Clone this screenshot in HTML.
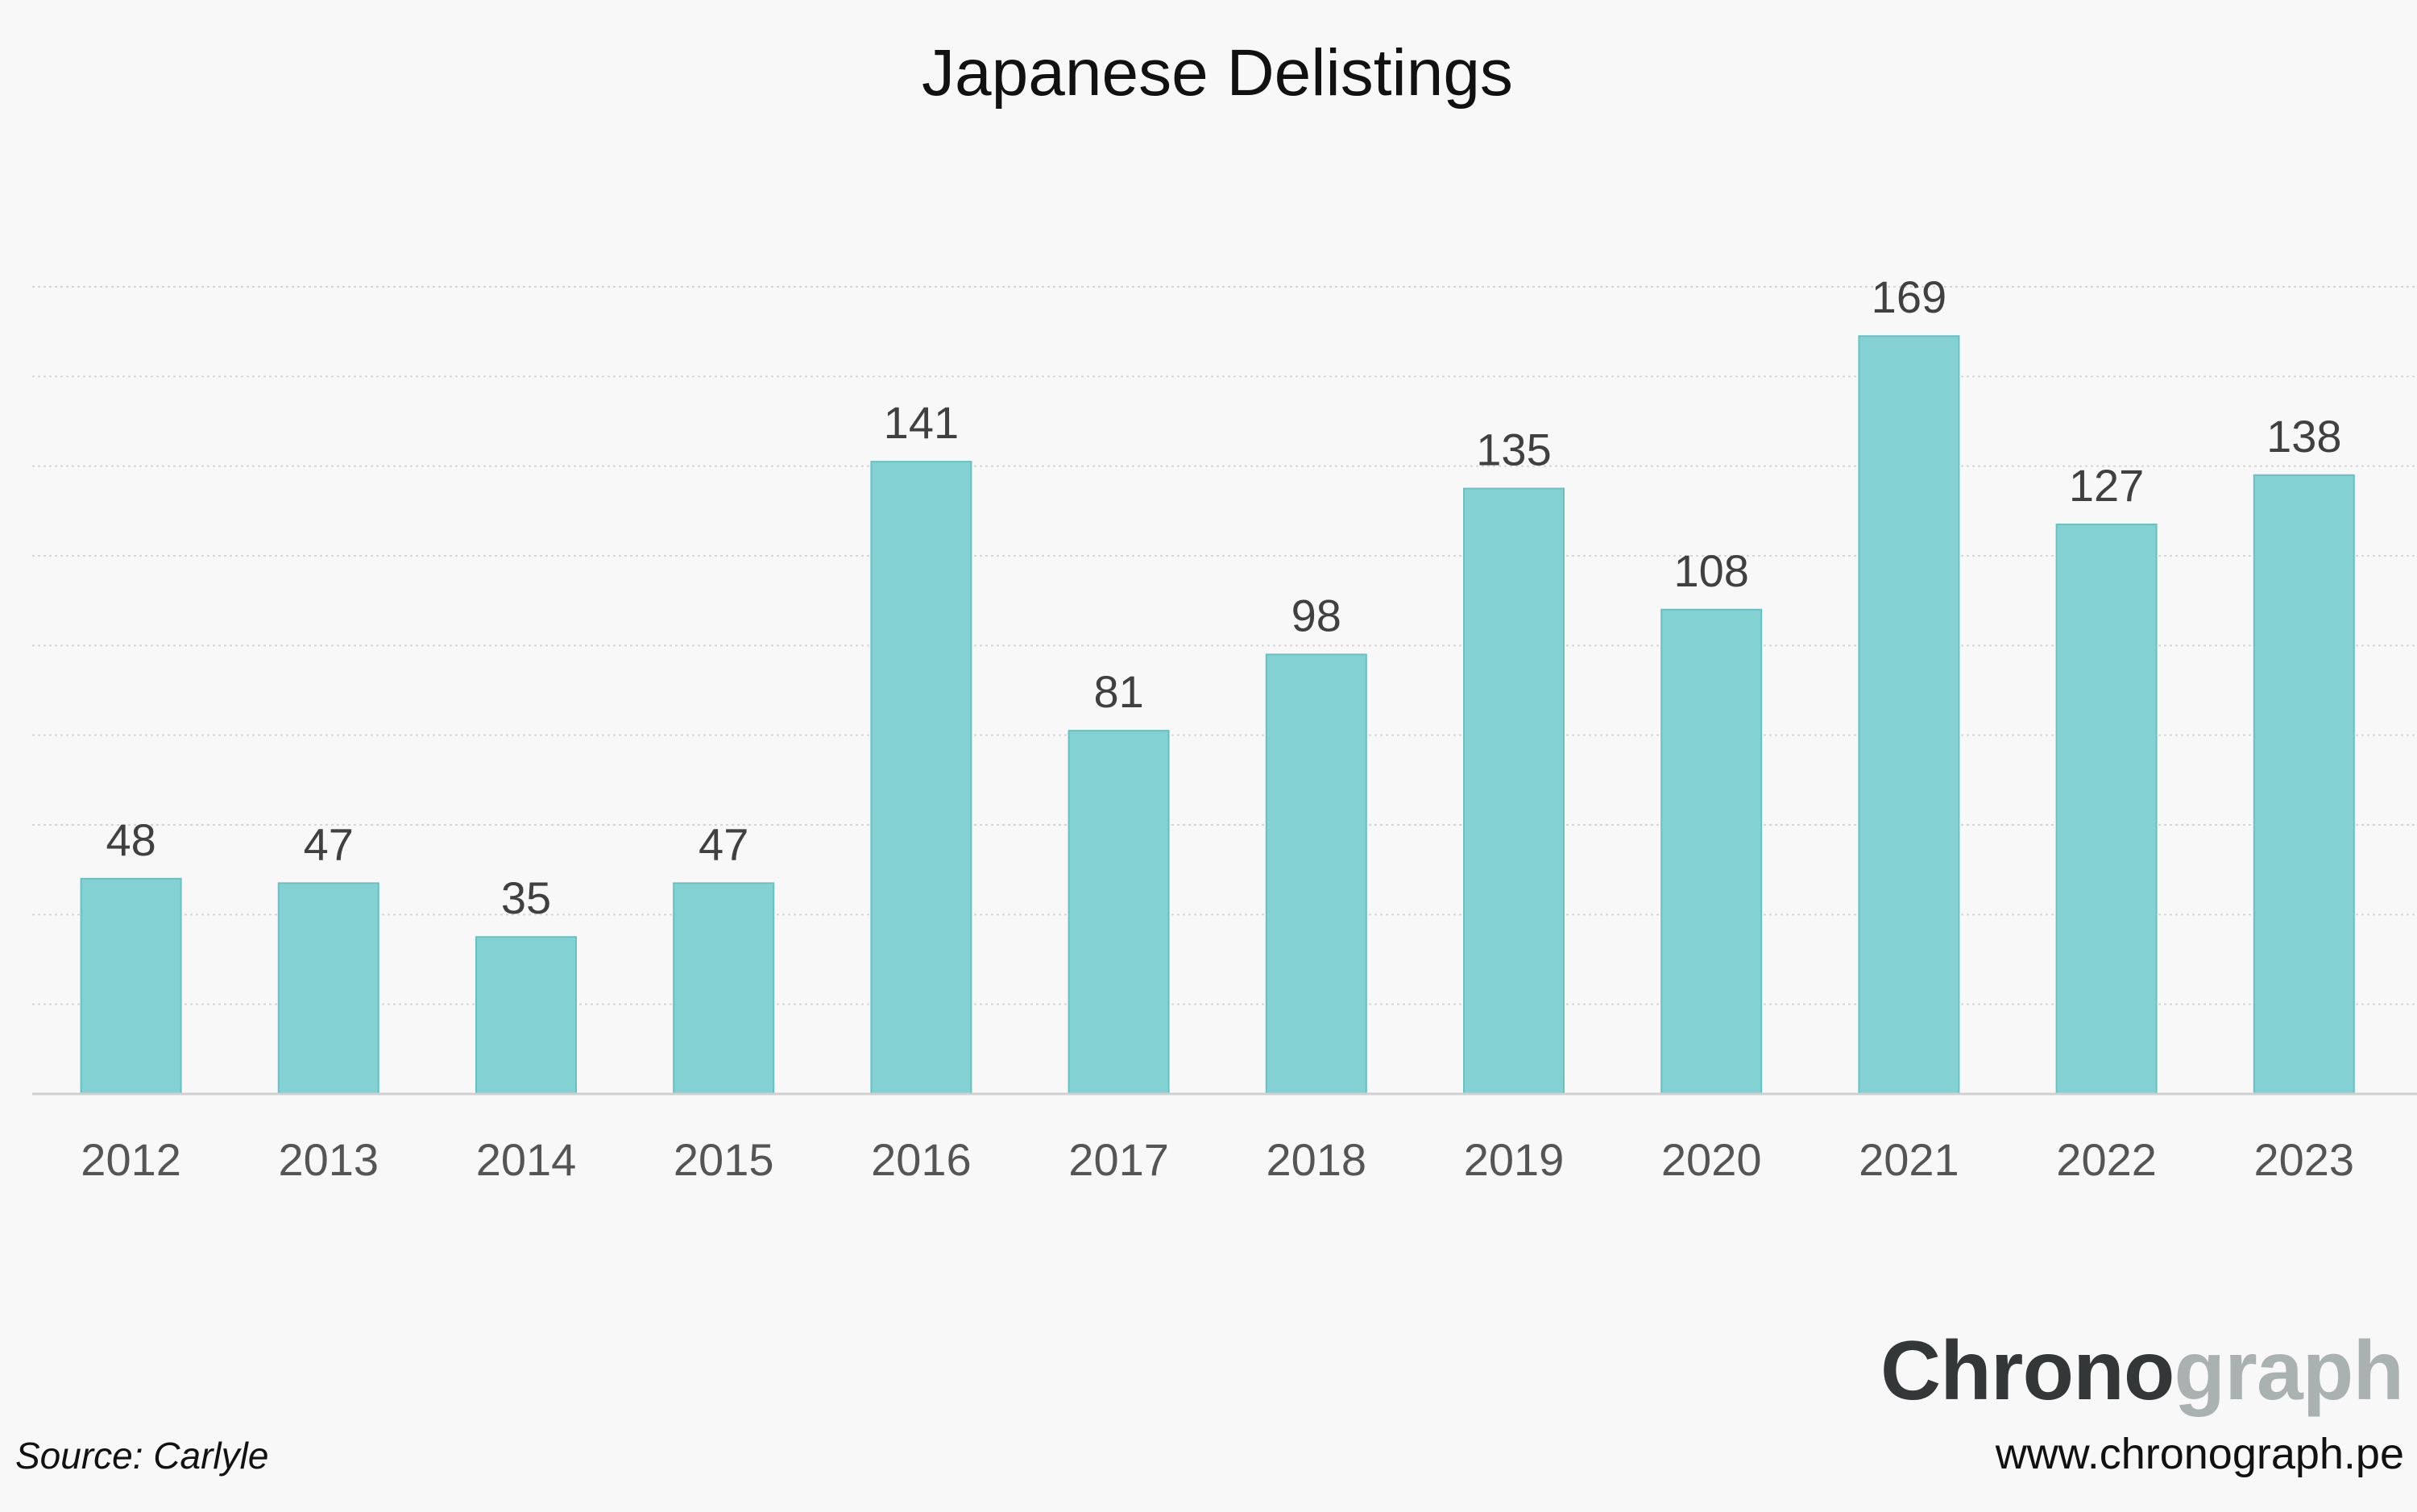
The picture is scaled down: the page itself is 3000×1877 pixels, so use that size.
<!DOCTYPE html>
<html><head><meta charset="utf-8"><style>
html,body{margin:0;padding:0;background:#f8f8f8;}
svg{display:block;font-family:"Liberation Sans",sans-serif;}
</style></head><body>
<svg id="chart" width="3000" height="1877" viewBox="0 0 3000 1877" xmlns="http://www.w3.org/2000/svg">
<rect width="3000" height="1877" fill="#f8f8f8"/>
<text x="1511" y="118" text-anchor="middle" font-size="82" fill="#111">Japanese Delistings</text>
<g id="grid"></g>
<g id="bars"></g>
<g id="labels"></g>
<g id="xaxis"></g>
<text x="19" y="1823" font-size="46" font-style="italic" fill="#111">Source: Carlyle</text>
<text x="2984" y="1737" text-anchor="end" font-size="104" font-weight="bold" textLength="650"><tspan fill="#333738">Chrono</tspan><tspan fill="#aab1b1">graph</tspan></text>
<text x="2984" y="1823" text-anchor="end" font-size="54" fill="#111">www.chronograph.pe</text>
</svg>
<script>
const categories = ["2012","2013","2014","2015","2016","2017","2018","2019","2020","2021","2022","2023"];
const values = [48,47,35,47,141,81,98,135,108,169,127,138];
const gridTicks = [20,40,60,80,100,120,140,160,180];
const NS = "http://www.w3.org/2000/svg";
const plotLeft = 40, step = 245.2, barW = 124, baseY = 1358, yMax = 180, topY = 356;
function xCenter(i){ return plotLeft + step*(i+0.5); }
function yScale(v){ return baseY - (baseY-topY)*v/yMax; }
function mk(tag, attrs, parent){ const e=document.createElementNS(NS,tag); for(const k in attrs) e.setAttribute(k,attrs[k]); parent.appendChild(e); return e; }
const grid=document.getElementById('grid'), bars=document.getElementById('bars'), labels=document.getElementById('labels'), xaxis=document.getElementById('xaxis');
gridTicks.forEach(t=>{
  const y=yScale(t);
  const l=mk('line',{x1:plotLeft,x2:3000,y1:y,y2:y,stroke:'#d6d6d6','stroke-width':2,'stroke-dasharray':'3 4'},grid);
  
  
});
const base=mk('line',{x1:plotLeft,x2:3000,y1:baseY,y2:baseY,stroke:'#d0d0d0','stroke-width':3},xaxis);


categories.forEach((c,i)=>{
  const cx=xCenter(i), y=yScale(values[i]);
  const r=mk('rect',{x:cx-barW/2,y:y,width:barW,height:baseY-y,fill:'#84d1d4',stroke:'#64c2c5','stroke-width':2},bars);
  
  
  const t=mk('text',{x:cx,y:y-29,'text-anchor':'middle','font-size':56,fill:'#404040'},labels);
  t.textContent=values[i];
  
  
  const xl=mk('text',{x:cx,y:1459,'text-anchor':'middle','font-size':56,fill:'#555'},xaxis);
  xl.textContent=c;
  
  
});
</script>
</body></html>
